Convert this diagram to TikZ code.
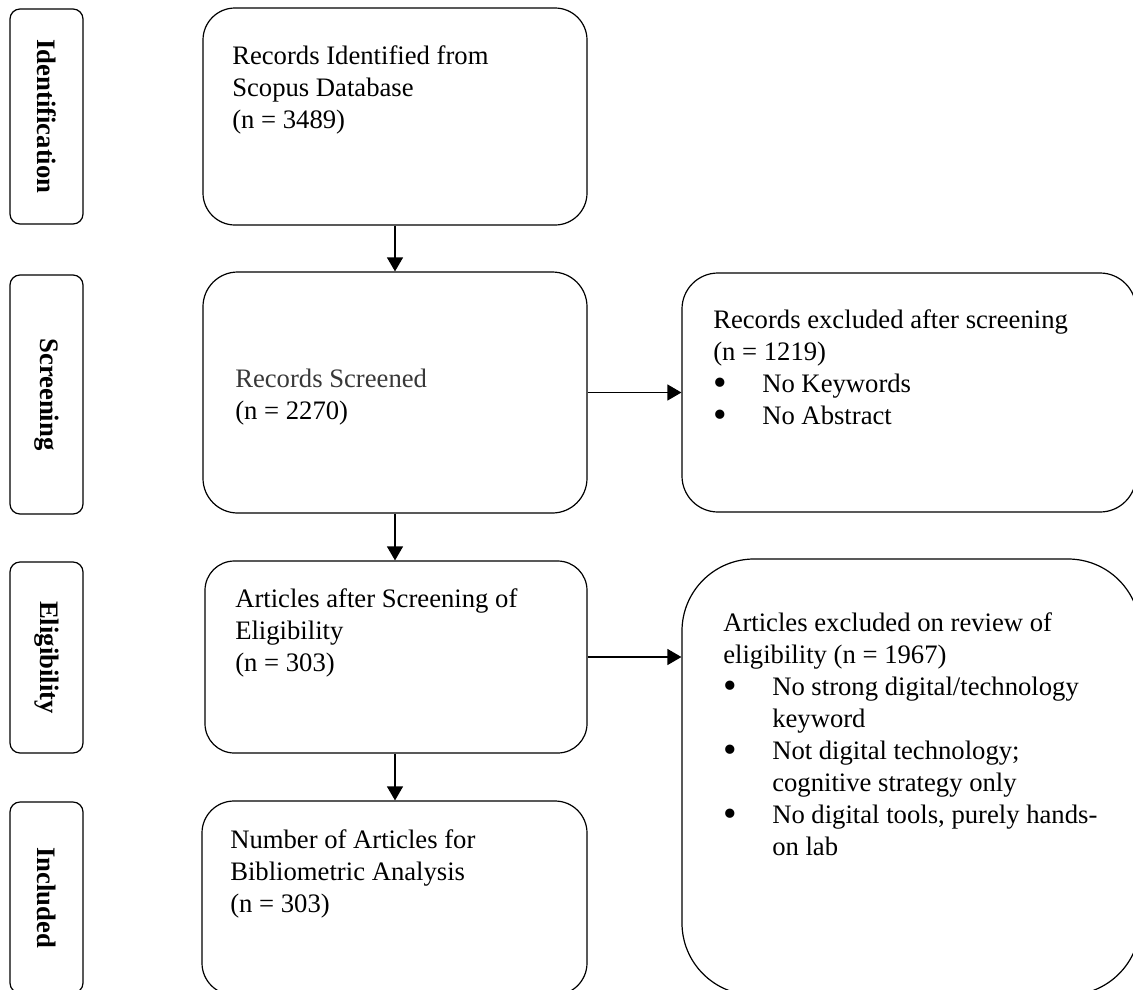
\documentclass[tikz,border=0pt]{standalone}
\usepackage{fontspec}
\setmainfont{Liberation Serif}
\usetikzlibrary{arrows.meta}
\newcommand\mybul{\makebox[36.75pt][l]{\raisebox{-2.4pt}[8pt][0pt]{\scalebox{1.45}{\textbullet}}}}
\newcommand\myind{\hspace*{36.75pt}}
\begin{document}
\begin{tikzpicture}[x=0.75pt,y=-0.75pt,
  lbl/.style={draw, line width=0.9pt, rounded corners=7.5pt, inner sep=0pt,
    minimum height=54.75pt, rotate=-90, font=\fontsize{20}{24}\selectfont\bfseries},
  pbox/.style={draw, line width=0.9pt, inner sep=0pt, rectangle},
  txt/.style={anchor=north west, inner sep=0pt, align=left, font=\fontsize{20}{24}\selectfont},
  arr/.style={line width=0.9pt, -{Triangle[length=10.5pt,width=12pt]}}]
\path[use as bounding box, clip] (0,0) rectangle (1133,990);

% stage labels
\node[lbl, minimum width=161.25pt] (l1) at (46.5,116.5) {Identification};
\node[lbl, minimum width=179.25pt] (l2) at (46.5,394.5) {Screening};
\node[lbl, minimum width=143.25pt] (l3) at (46.5,657.5) {Eligibility};
\node[lbl, minimum width=143.25pt] (l4) at (46.5,897.5) {Included};

% boxes
\node[pbox, rounded corners=24pt, minimum width=288pt, minimum height=162.75pt] (b1) at (395,116.5) {};
\node[pbox, rounded corners=26pt, minimum width=288pt, minimum height=180.75pt] (b2) at (395,392.5) {};
\node[pbox, rounded corners=27pt, minimum width=340.5pt, minimum height=179.25pt] (b3) at (909,392.5) {};
\node[pbox, rounded corners=22pt, minimum width=286.5pt, minimum height=144pt] (b4) at (396,657) {};
\node[pbox, rounded corners=54pt, minimum width=343.5pt, minimum height=327pt] (b5) at (911,777) {};
\node[pbox, rounded corners=24pt, minimum width=288.75pt, minimum height=145.5pt] (b6) at (394.5,898) {};

% texts
\node[txt] (t1) at (232,40) {\rule{0pt}{18pt}Records Identified from\\Scopus Database\\(n = 3489)};
\node[txt] (t2) at (235,363) {\rule{0pt}{18pt}\textcolor{black!78}{Records Screened}\\(n = 2270)};
\node[txt] (t3) at (713,304) {\rule{0pt}{18pt}Records excluded after screening\\(n = 1219)\\
  \mybul No Keywords\\
  \mybul No Abstract};
\node[txt] (t4) at (235,583) {\rule{0pt}{18pt}Articles after Screening of\\Eligibility\\(n = 303)};
\node[txt] (t5) at (723,607) {\rule{0pt}{18pt}Articles excluded on review of\\eligibility (n = 1967)\\
  \mybul No strong digital/technology\\
  \myind keyword\\
  \mybul Not digital technology;\\
  \myind cognitive strategy only\\
  \mybul No digital tools, purely hands-\\
  \myind on lab};
\node[txt] (t6) at (230,824) {\rule{0pt}{18pt}Number of Articles for\\Bibliometric Analysis\\(n = 303)};

% connectors
\draw[arr] (b1.south) -- (b1.south |- b2.north);
\draw[arr] (b2.south) -- (b2.south |- b4.north);
\draw[arr] (b4.south -| b2.south) -- (b2.south |- b6.north);
\draw[arr] (b2.east) -- (b2.east -| b3.west);
\draw[arr] (b4.east) -- (b4.east -| b5.west);
\end{tikzpicture}
\end{document}
